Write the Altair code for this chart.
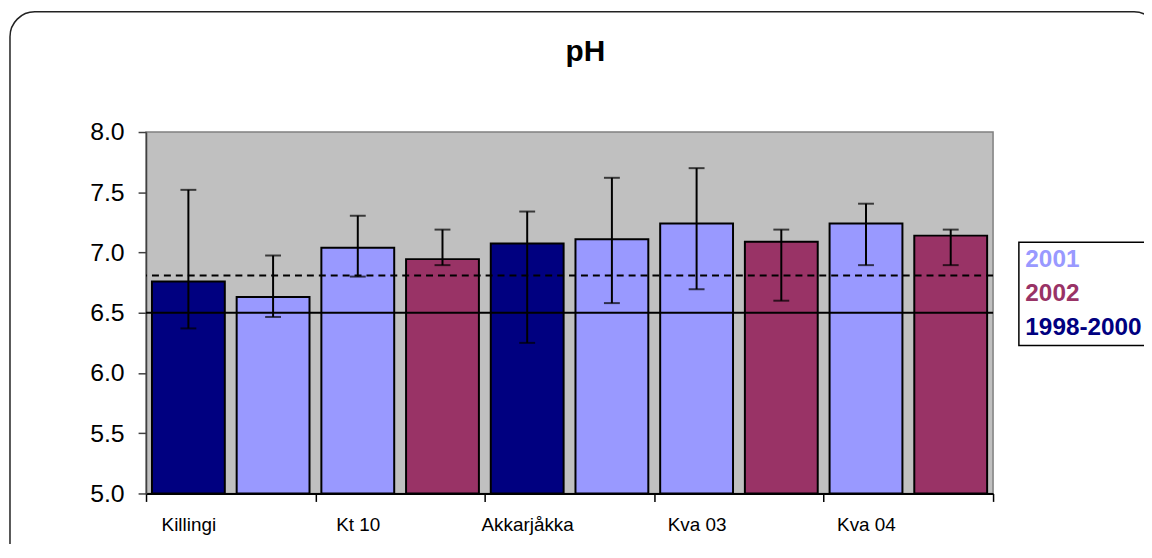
import json
import altair as alt
import pandas as pd

# ---------------- data ----------------
sites = ["Killingi", "Killingi", "Kt 10", "Kt 10", "Akkarjåkka", "Akkarjåkka",
         "Kva 03", "Kva 03", "Kva 04", "Kva 04"]
periods = ["1998-2000", "2001", "2001", "2002", "1998-2000", "2001",
           "2001", "2002", "2001", "2002"]
ph_mean = [6.76, 6.63, 7.04, 6.945, 7.075, 7.11, 7.24, 7.09, 7.24, 7.14]
ph_low = [6.37, 6.465, 6.80, 6.895, 6.25, 6.58, 6.695, 6.60, 6.895, 6.895]
ph_high = [7.52, 6.975, 7.305, 7.19, 7.34, 7.62, 7.70, 7.19, 7.405, 7.19]

site_labels = ["Killingi", "Kt 10", "Akkarjåkka", "Kva 03", "Kva 04"]
period_order = ["2001", "2002", "1998-2000"]
period_colors = ["#9999FF", "#993366", "#000080"]
y_ticks = [5.0, 5.5, 6.0, 6.5, 7.0, 7.5, 8.0]
guide_solid = [6.5]
guide_dashed = [6.81]
title_text = "pH"

FONT = "Liberation Sans"

df = pd.DataFrame({
    "site": sites,
    "period": periods,
    "mean": ph_mean,
    "low": ph_low,
    "high": ph_high,
    "idx": list(range(len(sites))),
})

n = len(sites)
x_scale = alt.Scale(domain=[0, n], nice=False, zero=False)
y_scale = alt.Scale(domain=[y_ticks[0], y_ticks[-1]], nice=False, zero=False)

label_list = json.dumps(site_labels + [""], ensure_ascii=False).replace('"', "'")
x_axis = alt.Axis(
    values=list(range(0, n + 1, 2)),
    labelExpr=f"{label_list}[round(datum.value / 2)]",
    title=None, grid=False, tickSize=8, tickColor="black", tickWidth=1.5,
    domainColor="black", domainWidth=2,
    labelFont=FONT, labelFontSize=19, labelColor="black",
    labelPadding=14, labelAlign="center", labelOffset=42.6,
    labelFlush=False, labelOverlap=False,
)
y_axis = alt.Axis(
    values=y_ticks, format=".1f", title=None, grid=False,
    tickSize=8, tickColor="#404040", tickWidth=1.5,
    domainColor="#404040", domainWidth=1.5,
    labelFont=FONT, labelFontSize=25, labelColor="black", labelPadding=14,
)

base = alt.Chart(df).transform_calculate(
    x0="datum.idx + 0.07", x1="datum.idx + 0.93", xc="datum.idx + 0.5"
)

color_expr = (
    f"datum.value == '{period_order[0]}' ? '{period_colors[0]}' : "
    f"datum.value == '{period_order[1]}' ? '{period_colors[1]}' : '{period_colors[2]}'"
)
legend = alt.Legend(
    title=None, orient="none", legendX=879, legendY=111,
    padding=6, strokeColor="black", fillColor="white",
    labelFont=FONT, labelFontSize=24.5, labelFontWeight="bold",
    symbolSize=0, symbolOpacity=0, symbolStrokeWidth=0,
    labelOffset={"expr": "-24"},
    rowPadding=9,
    labelColor={"expr": color_expr},
)

frame = alt.Chart(pd.DataFrame({"k": [0]})).mark_rect(
    fillOpacity=0, stroke="#222222", strokeWidth=1.5, cornerRadius=25
).encode(
    x=alt.value(-137), x2=alt.value(1020), y=alt.value(-121), y2=alt.value(444)
)

bars = base.mark_bar(stroke="black", strokeWidth=2).encode(
    x=alt.X("x0:Q", scale=x_scale, axis=x_axis),
    x2="x1:Q",
    y=alt.Y("mean:Q", scale=y_scale, axis=y_axis),
    y2=alt.datum(y_ticks[0]),
    color=alt.Color("period:N",
                    scale=alt.Scale(domain=period_order, range=period_colors),
                    legend=legend),
)

solid = alt.Chart(pd.DataFrame({"v": guide_solid})).mark_rule(
    color="black", strokeWidth=2
).encode(y=alt.Y("v:Q", title=None))

dashed = alt.Chart(pd.DataFrame({"v": guide_dashed})).mark_rule(
    color="black", strokeWidth=2, strokeDash=[7, 5]
).encode(y=alt.Y("v:Q", title=None))

err = base.mark_rule(color="black", strokeWidth=2).encode(
    x=alt.X("xc:Q", title=None), y=alt.Y("low:Q", title=None), y2="high:Q"
)
cap_lo = base.mark_tick(orient="horizontal", size=16, thickness=2, color="black").encode(
    x=alt.X("xc:Q", title=None), y=alt.Y("low:Q", title=None)
)
cap_hi = base.mark_tick(orient="horizontal", size=16, thickness=2, color="black").encode(
    x=alt.X("xc:Q", title=None), y=alt.Y("high:Q", title=None)
)

chart = alt.layer(frame, bars, solid, dashed, err, cap_lo, cap_hi).properties(
    width=853, height=364,
    title=alt.Title(title_text, font=FONT, fontSize=30, fontWeight="bold",
                    color="black", dx=16, offset={"expr": "-80"},
                    baseline="alphabetic"),
    autosize=alt.AutoSizeParams(type="none"),
    padding={"left": 139, "top": 123, "right": 152, "bottom": 49},
    background="white",
).configure_view(
    stroke="#808080", strokeWidth=1.5, fill="#C0C0C0"
).configure_legend(
    strokeWidth=1.5
)

chart.save("out.html", embed_options={"renderer": "svg", "actions": False})
